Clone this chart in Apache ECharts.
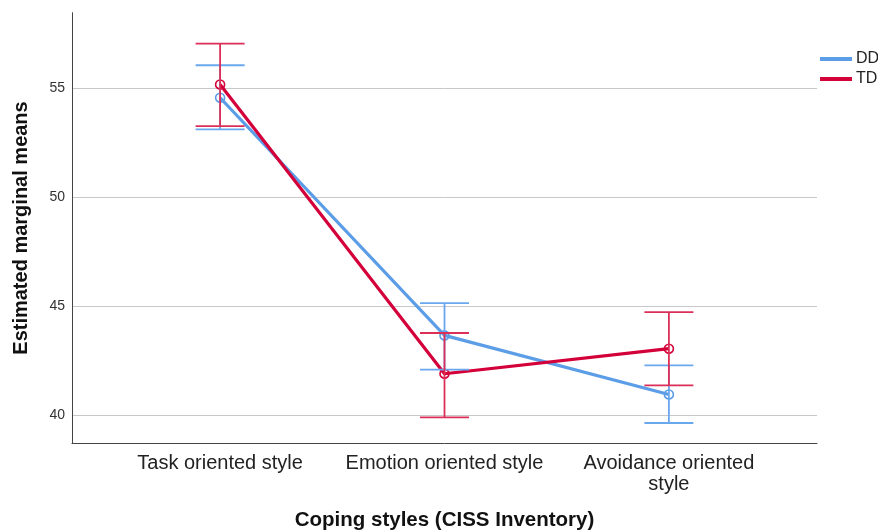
<!DOCTYPE html>
<html>
<head>
<meta charset="utf-8">
<script src="https://cdn.jsdelivr.net/npm/echarts@6/dist/echarts.min.js"></script>
<style>
html,body{margin:0;padding:0;background:#fff;}
#chart{width:878px;height:532px;}
</style>
</head>
<body>
<div id="chart"></div>
<script>
const categories = ['Task oriented style', 'Emotion oriented style', 'Avoidance oriented style'];
const tickLabels = ['Task oriented style', 'Emotion oriented style', 'Avoidance oriented\nstyle'];
const yTicks = [40, 45, 50, 55];

const ddMean = [54.57, 43.67, 40.96];
const ddLow  = [53.12, 42.10, 39.65];
const ddHigh = [56.06, 45.15, 42.29];

const tdMean = [55.18, 41.91, 43.06];
const tdLow  = [53.27, 39.91, 41.38];
const tdHigh = [57.05, 43.78, 44.74];

const BLUE = '#5b9de6';
const RED = '#d4003a';
const BLUE_ERR = '#6aa8ee';
const RED_ERR = '#dc2f58';

function pts(vals) { return vals.map((v, i) => [i + 1, v]); }
function errData(lo, hi) { return lo.map((v, i) => [i + 1, v, hi[i]]); }

function errSeries(name, lo, hi, color) {
  return {
    type: 'custom',
    name: name,
    z: 4,
    silent: true,
    renderItem: function (params, api) {
      const x = api.value(0);
      const pLo = api.coord([x, api.value(1)]);
      const pHi = api.coord([x, api.value(2)]);
      const hw = 24.5;
      const style = { stroke: color, lineWidth: 1.8, fill: null };
      return {
        type: 'group',
        children: [
          { type: 'line', shape: { x1: pLo[0], y1: pLo[1], x2: pHi[0], y2: pHi[1] }, style: style },
          { type: 'line', shape: { x1: pLo[0] - hw, y1: pLo[1], x2: pLo[0] + hw, y2: pLo[1] }, style: style },
          { type: 'line', shape: { x1: pHi[0] - hw, y1: pHi[1], x2: pHi[0] + hw, y2: pHi[1] }, style: style }
        ]
      };
    },
    data: errData(lo, hi)
  };
}

function lineSeries(name, vals, color) {
  return {
    type: 'line',
    name: name,
    data: pts(vals),
    z: 3,
    symbol: 'circle',
    symbolSize: 9,
    lineStyle: { color: color, width: 3.2 },
    itemStyle: { color: 'rgba(255,255,255,0)', borderColor: color, borderWidth: 1.6 },
    emphasis: { disabled: true }
  };
}

const chart = echarts.init(document.getElementById('chart'), null, { renderer: 'canvas' });
chart.setOption({
  animation: false,
  backgroundColor: '#ffffff',
  textStyle: { fontFamily: 'Liberation Sans, Arial, sans-serif' },
  grid: { left: 72, right: 61, top: 12.7, bottom: 88.7, containLabel: false, outerBoundsMode: 'none' },
  legend: {
    orient: 'vertical',
    left: 815,
    top: 46,
    itemWidth: 32,
    itemHeight: 4,
    itemGap: 4,
    icon: 'rect',
    textStyle: { fontSize: 16, lineHeight: 16, color: '#222', fontFamily: 'Liberation Sans, Arial, sans-serif', padding: [0, 0, 0, -1] },
    data: [
      { name: 'DD', itemStyle: { color: BLUE, borderWidth: 0 } },
      { name: 'TD', itemStyle: { color: RED, borderWidth: 0 } }
    ]
  },
  xAxis: {
    type: 'value',
    min: 0.34,
    max: 3.66,
    name: 'Coping styles (CISS Inventory)',
    nameLocation: 'middle',
    nameGap: 67,
    nameTextStyle: { fontSize: 20.5, fontWeight: 'bold', color: '#111' },
    axisLine: { show: true, lineStyle: { color: '#444', width: 1 } },
    axisTick: { show: false },
    splitLine: { show: false },
    axisLabel: {
      customValues: [1, 2, 3],
      margin: 10,
      fontSize: 20,
      color: '#222',
      lineHeight: 21,
      formatter: function (v) { return tickLabels[Math.round(v) - 1] || ''; }
    }
  },
  yAxis: {
    type: 'value',
    min: 38.72,
    max: 58.47,
    name: 'Estimated marginal means',
    nameLocation: 'middle',
    nameGap: 41,
    nameTextStyle: { fontSize: 20, fontWeight: 'bold', color: '#111' },
    axisLine: { show: true, lineStyle: { color: '#444', width: 1 } },
    axisTick: { show: false, customValues: yTicks },
    axisLabel: { customValues: yTicks, fontSize: 14, color: '#333', margin: 7 },
    splitLine: { show: true, lineStyle: { color: '#c8c8c8', width: 1 } }
  },
  series: [
    lineSeries('DD', ddMean, BLUE),
    errSeries('DD', ddLow, ddHigh, BLUE_ERR),
    lineSeries('TD', tdMean, RED),
    errSeries('TD', tdLow, tdHigh, RED_ERR)
  ]
});
</script>
</body>
</html>
